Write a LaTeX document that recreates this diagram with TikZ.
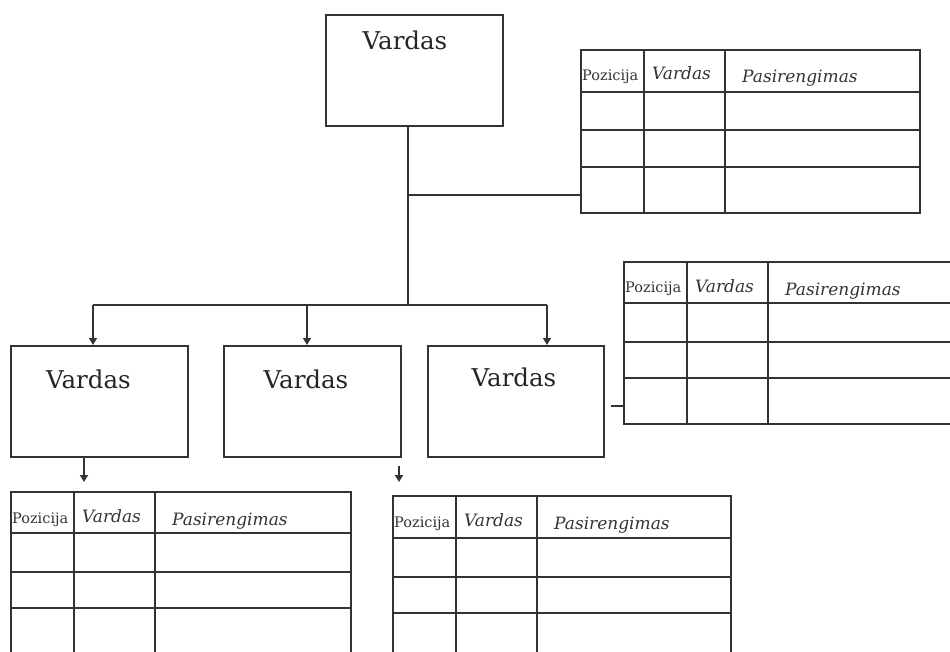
\documentclass[tikz,border=0pt]{standalone}
\usepackage{fontspec}
\setmainfont{DejaVu Serif}
\usetikzlibrary{arrows.meta}

\tikzset{
  ink/.style={draw=black!80, line width=1.7pt},
  namebox/.style={ink, rectangle, inner sep=0pt, anchor=north west},
  nametext/.style={anchor=base, inner sep=0pt, font=\fontsize{24.5}{26}\selectfont, text=black!85},
  tbl/.style={ink, rectangle, inner sep=0pt, anchor=north west},
  gridline/.style={ink},
  hsmall/.style={anchor=base west, inner sep=0pt, font=\fontsize{14.5}{16}\selectfont, text=black!80},
  hital/.style={anchor=base west, inner sep=0pt, font=\fontsize{17}{19}\selectfont\itshape, text=black!80},
  link/.style={ink, line width=1.6pt},
  arrowlink/.style={link, -{Triangle[width=8pt,length=7pt]}},
}

% #1 name, #2 x0, #3 y0, #4 x1, #5 y1, #6 first column rule, #7 second column rule, #8 row rules
\newcommand{\gridtable}[8]{%
  \node[tbl, minimum width={#4-#2}, minimum height={#5-#3}] (#1) at (#2,#3) {};
  \foreach \r in {#8} \draw[gridline] (#2,\r) -- (#4,\r);
  \draw[gridline] (#6,#3) -- (#6,#5);
  \draw[gridline] (#7,#3) -- (#7,#5);
  \node[hsmall] (#1-p) at (#2+2,#3+32) {Pozicija};
  \node[hital]  (#1-v) at (#6+8,#3+31) {Vardas};
  \node[hital]  (#1-s) at (#7+17,#3+34) {Pasirengimas};
}

\begin{document}
\begin{tikzpicture}[x=1pt, y=-1pt]
  \useasboundingbox (0,0) rectangle (950,652);
  \clip (0,0) rectangle (950,652);
  \fill[white] (0,0) rectangle (950,652);

  % name boxes
  \node[namebox, minimum width=177, minimum height=111] (b0) at (325,14) {};
  \node[nametext] (b0t) at (405,50) {Vardas};
  \node[namebox, minimum width=177, minimum height=111] (b1) at (10,345) {};
  \node[nametext] (b1t) at (88.5,388) {Vardas};
  \node[namebox, minimum width=177, minimum height=111] (b2) at (223,345) {};
  \node[nametext] (b2t) at (306,388) {Vardas};
  \node[namebox, minimum width=176, minimum height=111] (b3) at (427,345) {};
  \node[nametext] (b3t) at (514,386) {Vardas};

  % tables
  \gridtable{t1}{580}{49}{919}{212}{644}{725}{92,130,167}
  \gridtable{t2}{623}{261}{965}{423}{687}{768}{303,342,378}
  \gridtable{t3}{10}{491}{350}{665}{74}{155}{533,572,608}
  \gridtable{t4}{392}{495}{730}{665}{456}{537}{538,577,613}

  % trunk and branches
  \coordinate (trunk) at (408,305);
  \coordinate (side) at (408,195);
  \coordinate (jl) at (93,305);
  \coordinate (jm) at (307,305);
  \coordinate (jr) at (547,305);
  \draw[link] (trunk |- b0.south) -- (trunk);
  \draw[link] (side) -- (side -| t1.west);
  \draw[link] (jl) -- (jr);
  \draw[arrowlink] (jl) -- (jl |- b1.north);
  \draw[arrowlink] (jm) -- (jm |- b2.north);
  \draw[arrowlink] (jr) -- (jr |- b3.north);

  % links towards the lower tables
  \coordinate (d1) at (84,482);
  \draw[arrowlink] (d1 |- b1.south) -- (d1);
  \coordinate (d2s) at (399,466);
  \coordinate (d2e) at (399,482);
  \draw[arrowlink] (d2s) -- (d2e);
  \coordinate (d3) at (611,406);
  \draw[link] (d3) -- (d3 -| t2.west);
\end{tikzpicture}
\end{document}
